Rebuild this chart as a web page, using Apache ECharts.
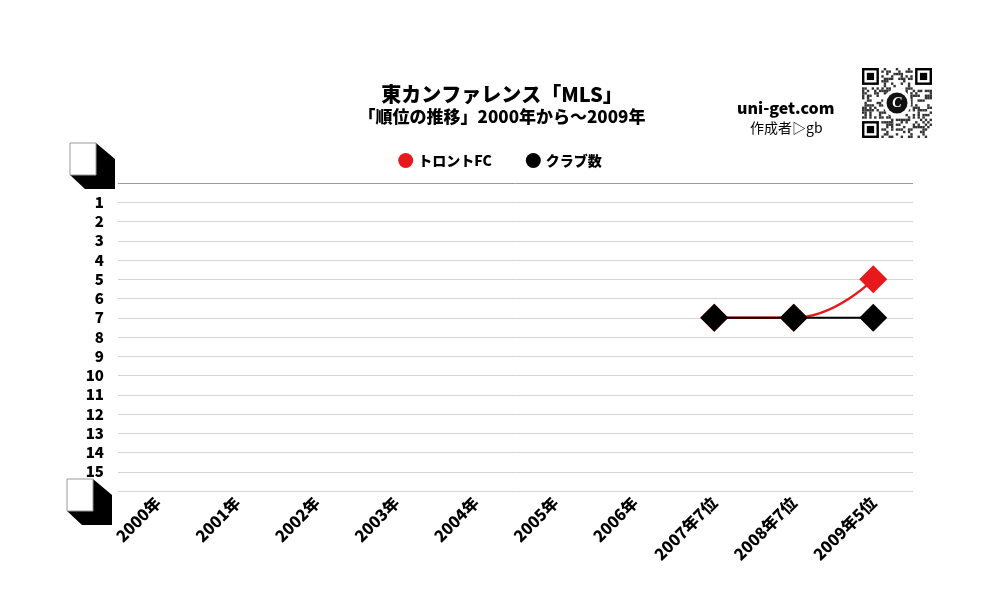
<!DOCTYPE html>
<html><head><meta charset="utf-8">
<script src="https://cdn.jsdelivr.net/npm/echarts@6/dist/echarts.min.js"></script>
<style>html,body{margin:0;padding:0;background:#fff}#c{width:1000px;height:600px}</style>
</head><body><div id="c"></div>
<script>
const categories = ['2000年','2001年','2002年','2003年','2004年','2005年','2006年','2007年7位','2008年7位','2009年5位'];
const torontoRank = [null,null,null,null,null,null,null,7,7,5];
const clubCount = [null,null,null,null,null,null,null,7,7,7];
const yTicks = ['','1','2','3','4','5','6','7','8','9','10','11','12','13','14','15',''];

const FONT = '"Noto Sans CJK JP", "Noto Sans", sans-serif';

// decorative QR-like code
function qrGraphic(x0, y0, size, n) {
  const m = size / n; const els = [];
  let s = 12345;
  function rnd(){ s = (s * 1103515245 + 12345) & 0x7fffffff; return s / 0x7fffffff; }
  const finder = (cx, cy) => {
    els.push({type:'rect', shape:{x:x0+cx*m, y:y0+cy*m, width:7*m, height:7*m}, style:{fill:'#000'}});
    els.push({type:'rect', shape:{x:x0+(cx+1)*m, y:y0+(cy+1)*m, width:5*m, height:5*m}, style:{fill:'#fff'}});
    els.push({type:'rect', shape:{x:x0+(cx+2)*m, y:y0+(cy+2)*m, width:3*m, height:3*m}, style:{fill:'#000'}});
  };
  for (let i = 0; i < n; i++) for (let j = 0; j < n; j++) {
    const inF = (i < 8 && j < 8) || (i < 8 && j >= n-8) || (i >= n-8 && j < 8);
    if (inF) continue;
    if (rnd() < 0.42) els.push({type:'rect', shape:{x:x0+j*m, y:y0+i*m, width:m, height:m}, style:{fill:'#333'}});
  }
  finder(0,0); finder(n-7,0); finder(0,n-7);
  const c = size/2;
  els.push({type:'circle', shape:{cx:x0+c, cy:y0+c, r:14}, style:{fill:'#fff'}});
  els.push({type:'circle', shape:{cx:x0+c, cy:y0+c, r:10.5}, style:{fill:'#111'}});
  els.push({type:'text', x:x0+c, y:y0+c, style:{text:'C', fill:'#fff', font:'italic bold 14px serif', align:'center', verticalAlign:'middle'}});
  return els;
}

function cube(x, y) {
  return [
    {type:'polygon', shape:{points:[[x+26,y],[x+45,y+16],[x+45,y+46],[x+15,y+46],[x,y+32],[x+26,y+32]]}, style:{fill:'#000'}},
    {type:'rect', shape:{x:x, y:y, width:26, height:32}, style:{fill:'#fff', stroke:'#999', lineWidth:1}}
  ];
}

const chart = echarts.init(document.getElementById('c'));
chart.setOption({
  backgroundColor:'#fff',
  animation:false,
  title:{
    text:'東カンファレンス「MLS」',
    subtext:'「順位の推移」2000年から～2009年',
    left:497, top:79, textAlign:'center', itemGap:4,
    textStyle:{fontFamily:FONT, fontWeight:900, fontSize:20, color:'#000'},
    subtextStyle:{fontFamily:FONT, fontWeight:900, fontSize:17, color:'#000'}
  },
  legend:{
    top:148, left:'center', itemGap:34, icon:'circle', itemWidth:15, itemHeight:15,
    textStyle:{fontFamily:FONT, fontWeight:900, fontSize:14, color:'#000'},
    data:['トロントFC','クラブ数']
  },
  grid:{left:118, right:87, top:183, bottom:109},
  xAxis:{
    type:'category', data:categories, boundaryGap:true,
    axisLine:{show:false}, axisTick:{show:false},
    axisLabel:{rotate:45, margin:9, interval:0, fontFamily:FONT, fontWeight:900, fontSize:16, color:'#000'}
  },
  yAxis:{
    type:'value', inverse:true, min:0, max:16, interval:1,
    axisLine:{show:false}, axisTick:{show:false},
    axisLabel:{margin:14, fontFamily:FONT, fontWeight:900, fontSize:15, color:'#000',
      formatter:(v)=> yTicks[v] || ''},
    splitLine:{lineStyle:{color:['#999','#d4d4d4','#d4d4d4','#d4d4d4','#d4d4d4','#d4d4d4','#d4d4d4','#d4d4d4','#d4d4d4','#d4d4d4','#d4d4d4','#d4d4d4','#d4d4d4','#d4d4d4','#d4d4d4','#d4d4d4','#d4d4d4'], width:1}}
  },
  series:[
    {name:'トロントFC', type:'line', data:torontoRank, smooth:0.5, symbol:'diamond', symbolSize:28,
      itemStyle:{color:'#e8191c'}, lineStyle:{color:'#e8191c', width:2.5}, z:2},
    {name:'クラブ数', type:'line', data:clubCount, smooth:false, symbol:'diamond', symbolSize:28,
      itemStyle:{color:'#000'}, lineStyle:{color:'#000', width:2}, z:3}
  ],
  graphic:[
    {type:'text', left:737, top:100, style:{text:'uni-get.com', font:'900 16px '+FONT, fill:'#000'}},
    {type:'text', left:750, top:121, style:{text:'作成者▷gb', font:'14px '+FONT, fill:'#000'}},
    {type:'group', children: qrGraphic(862, 68, 70, 29)},
    {type:'group', children: cube(70,143)},
    {type:'group', children: cube(67,479)}
  ]
});
</script></body></html>
